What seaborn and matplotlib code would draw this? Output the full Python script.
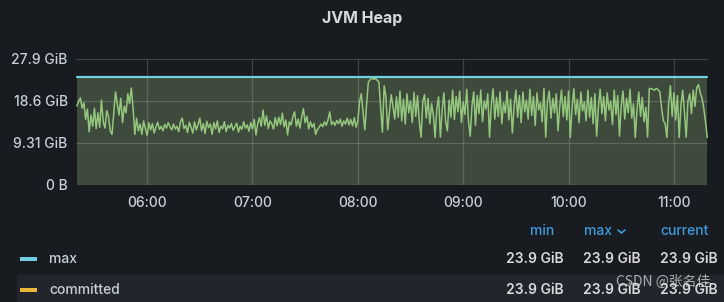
import numpy as np
import pandas as pd
import matplotlib
matplotlib.use("Agg")
import matplotlib.pyplot as plt
import matplotlib.dates as mdates
from matplotlib.patches import Rectangle
from matplotlib.lines import Line2D
import seaborn as sns

# ---------------- data ----------------
start_time = "2023-01-01 05:20"
used_gib = [
    # 05:20 - 05:53
    17.5, 18.5, 19.3, 17.0, 18.2, 14.5, 16.8, 11.8, 15.5, 13.0, 17.0, 12.5, 16.0, 12.8, 18.8, 14.0,
    12.6, 16.5, 15.2, 12.0, 11.2, 16.0, 20.6, 18.0, 15.5, 19.2, 13.8, 17.5, 16.0, 20.2, 18.0, 21.5,
    17.0, 11.2,
    # 05:54 - 07:59
    14.8, 12.0, 13.5, 11.2, 14.2, 12.5, 11.0, 13.8, 12.2, 13.6, 11.5, 12.8, 13.9, 12.3, 13.0, 12.0,
    13.4, 12.6, 13.8, 12.9, 12.2, 13.5, 12.4, 13.0, 11.8, 14.0, 14.8, 12.5, 13.2, 11.6, 13.9, 12.8,
    11.5, 14.0, 12.2, 13.3, 14.8, 12.0, 13.6, 11.4, 14.1, 12.7, 13.5, 11.2, 13.8, 12.4, 14.2, 11.6,
    13.0, 12.5, 14.0, 11.8, 13.2, 12.6, 13.6, 12.1, 12.9, 13.7, 11.7, 13.0, 12.3, 14.0, 12.6, 13.3,
    11.9, 13.8, 12.4, 14.5, 11.1, 13.6, 14.9, 13.0, 16.6, 13.2, 15.3, 12.5, 14.2, 13.5, 12.4, 14.9,
    13.1, 15.0, 13.4, 15.9, 12.9, 14.4, 11.1, 14.0, 13.3, 15.2, 16.2, 13.0, 14.6, 12.6, 15.0, 16.9,
    13.8, 15.2, 12.4, 14.0, 12.8, 13.6, 11.2, 12.3, 12.8, 13.5, 12.9, 14.0, 13.2, 14.4, 16.2, 13.4,
    14.0, 13.2, 14.3, 13.6, 14.6, 13.0, 14.2, 13.5, 14.8, 13.3, 14.5, 13.1, 14.9, 12.8,
    # 08:00 - 08:21
    14.2, 18.5, 20.2, 16.0, 12.2, 18.0, 22.8, 23.3, 23.7, 23.4, 23.6, 23.2, 22.8, 17.0, 11.7, 22.0,
    19.5, 12.2, 16.0, 20.0, 17.5, 14.6,
    # 08:22 - 11:19
    19.5, 15.0, 20.8, 14.2, 19.0, 13.5, 20.2, 16.0, 18.6, 13.8, 20.5, 15.2, 19.8, 14.0, 10.6, 18.5,
    20.0, 14.8, 19.2, 13.6, 18.0, 15.5, 10.5, 17.0, 19.5, 10.6, 16.5, 20.4, 14.0, 12.0, 18.8, 15.0,
    21.0, 14.5, 19.6, 16.2, 20.8, 13.8, 18.4, 15.6, 21.2, 14.2, 10.8, 17.5, 20.6, 13.2, 19.8, 15.8,
    21.0, 14.0, 18.6, 16.8, 20.2, 10.6, 17.8, 21.3, 14.6, 19.4, 15.2, 20.6, 13.6, 18.2, 16.0, 20.8,
    14.4, 19.0, 11.5, 17.6, 21.0, 15.0, 19.8, 13.8, 20.6, 16.2, 18.8, 14.6, 21.2, 15.4, 19.6, 13.2,
    20.4, 16.6, 18.2, 14.0, 21.4, 10.6, 18.6, 20.8, 14.8, 19.2, 16.0, 20.2, 12.0, 17.4, 21.0, 15.2,
    19.6, 14.4, 20.8, 10.5, 17.0, 21.3, 15.6, 19.0, 13.8, 20.6, 16.4, 18.4, 14.2, 21.0, 15.0, 19.4,
    13.6, 20.2, 10.8, 17.2, 21.2, 15.8, 19.6, 14.2, 20.4, 16.6, 18.6, 13.4, 21.0, 15.6, 19.8, 10.8,
    17.6, 20.8, 14.6, 19.2, 16.0, 21.2, 14.8, 18.0, 10.5, 16.8, 20.6, 15.2, 19.4, 14.0, 17.2, 10.6,
    21.4, 21.3, 21.2, 21.0, 21.4, 21.1, 20.6, 17.0, 14.2, 13.6, 10.5, 18.0, 22.0, 15.2, 20.4, 14.4,
    19.8, 10.5, 17.6, 21.0, 16.2, 10.6, 18.6, 20.2, 15.8, 21.0, 17.4, 21.6, 22.2, 20.4, 19.2, 17.0,
    14.0, 10.5,
]
max_gib = 23.9
committed_gib = 23.9
y_ticks = [0, 9.31, 18.6, 27.9]
y_tick_labels = ["0 B", "9.31 GiB", "18.6 GiB", "27.9 GiB"]
x_tick_times = ["06:00", "07:00", "08:00", "09:00", "10:00", "11:00"]
legend_series = ["max", "committed"]
legend_colors = ["#6ED0E0", "#EAB839"]
legend_columns = ["min", "max", "current"]
legend_values = [["23.9 GiB", "23.9 GiB", "23.9 GiB"],
                 ["23.9 GiB", "23.9 GiB", "23.9 GiB"]]

times = pd.date_range(start_time, periods=len(used_gib), freq="1min")
df = pd.DataFrame({"time": times, "used": used_gib,
                   "max": [max_gib] * len(used_gib),
                   "committed": [committed_gib] * len(used_gib)})

# ---------------- style ----------------
BG = "#181b1f"
TXT = "#c7d0d9"
sns.set_theme(style="dark")
plt.rcParams["font.family"] = ["Inter", "DejaVu Sans"]

fig = plt.figure(figsize=(7.24, 3.02), dpi=100, facecolor=BG)
W, H = 724, 302
ax = fig.add_axes([76 / W, 1 - 185 / H, (708 - 76) / W, 126 / H])
ax.set_facecolor(BG)

xnum = mdates.date2num(df["time"])
ax.fill_between(xnum, 0, df["max"], color="#3e4a3c", lw=0, zorder=1)

sns.lineplot(data=df, x="time", y="committed", ax=ax, color="#EAB839", lw=1.2, zorder=3)
sns.lineplot(data=df, x="time", y="max", ax=ax, color="#6ED0E0", lw=1.6, zorder=4)
sns.lineplot(data=df, x="time", y="used", ax=ax, color="#94c77d", lw=1.1, zorder=5)

ax.set_ylim(0, 27.9)
x0 = pd.Timestamp("2023-01-01 05:19:30")
x1 = pd.Timestamp("2023-01-01 11:19:25")
ax.set_xlim(mdates.date2num(x0), mdates.date2num(x1))
ax.set_yticks(y_ticks)
ax.set_yticklabels(y_tick_labels)
ax.set_xticks([mdates.date2num(pd.Timestamp("2023-01-01 " + t)) for t in x_tick_times])
ax.set_xticklabels(x_tick_times)
ax.set_xlabel("")
ax.set_ylabel("")
ax.tick_params(axis="both", colors=TXT, labelsize=10, length=0)
ax.tick_params(axis="y", pad=6)
ax.tick_params(axis="x", pad=8)
for lab in ax.get_xticklabels() + ax.get_yticklabels():
    lab.set_color(TXT)
    lab.set_fontweight("medium")
ax.grid(True, color="#ffffff", alpha=0.17, lw=0.9)
ax.set_axisbelow(False)
for s in ax.spines.values():
    s.set_visible(False)

# ---------------- title ----------------
fig.text(0.5, 1 - 18 / H, "JVM Heap", ha="center", va="center",
         color="#d8d9da", fontsize=11.5, fontweight="bold")

# ---------------- legend table ----------------
fig.add_artist(Rectangle((17 / W, 0), 1 - 17 / W, 27 / H, transform=fig.transFigure,
                         facecolor="#22252b", edgecolor="none", zorder=0))
row_y = [259, 290]
for name, col, ry, vals in zip(legend_series, legend_colors, row_y, legend_values):
    fig.add_artist(Rectangle((20 / W, 1 - (ry + 2) / H), 17 / W, 4 / H,
                             transform=fig.transFigure, facecolor=col, edgecolor="none"))
    fig.text(49 / W, 1 - ry / H, name, ha="left", va="center", color=TXT,
             fontsize=10, fontweight="medium")
    for v, xr in zip(vals, [564, 641, 718]):
        fig.text(xr / W, 1 - ry / H, v, ha="right", va="center", color="#d8d9da",
                 fontsize=10, fontweight="semibold")

hdr_color = "#3d9be0"
fig.text(554 / W, 1 - 231 / H, legend_columns[0], ha="right", va="center",
         color=hdr_color, fontsize=10, fontweight="medium")
fig.text(612 / W, 1 - 231 / H, legend_columns[1], ha="right", va="center",
         color=hdr_color, fontsize=10, fontweight="medium")
fig.add_artist(Line2D([618 / W, 621.5 / W, 625 / W], [1 - 230 / H, 1 - 233 / H, 1 - 230 / H],
                      transform=fig.transFigure, color=hdr_color, lw=1.2))
fig.text(709 / W, 1 - 231 / H, legend_columns[2], ha="right", va="center",
         color=hdr_color, fontsize=10, fontweight="medium")

# watermark
fig.text(711 / W, 1 - 282 / H, "CSDN @张名佳", ha="right", va="center", color="#e6e6e6",
         alpha=0.7, fontsize=10, family=["Noto Sans CJK SC", "DejaVu Sans"])

fig.savefig("out.png", dpi=100, facecolor=BG)
